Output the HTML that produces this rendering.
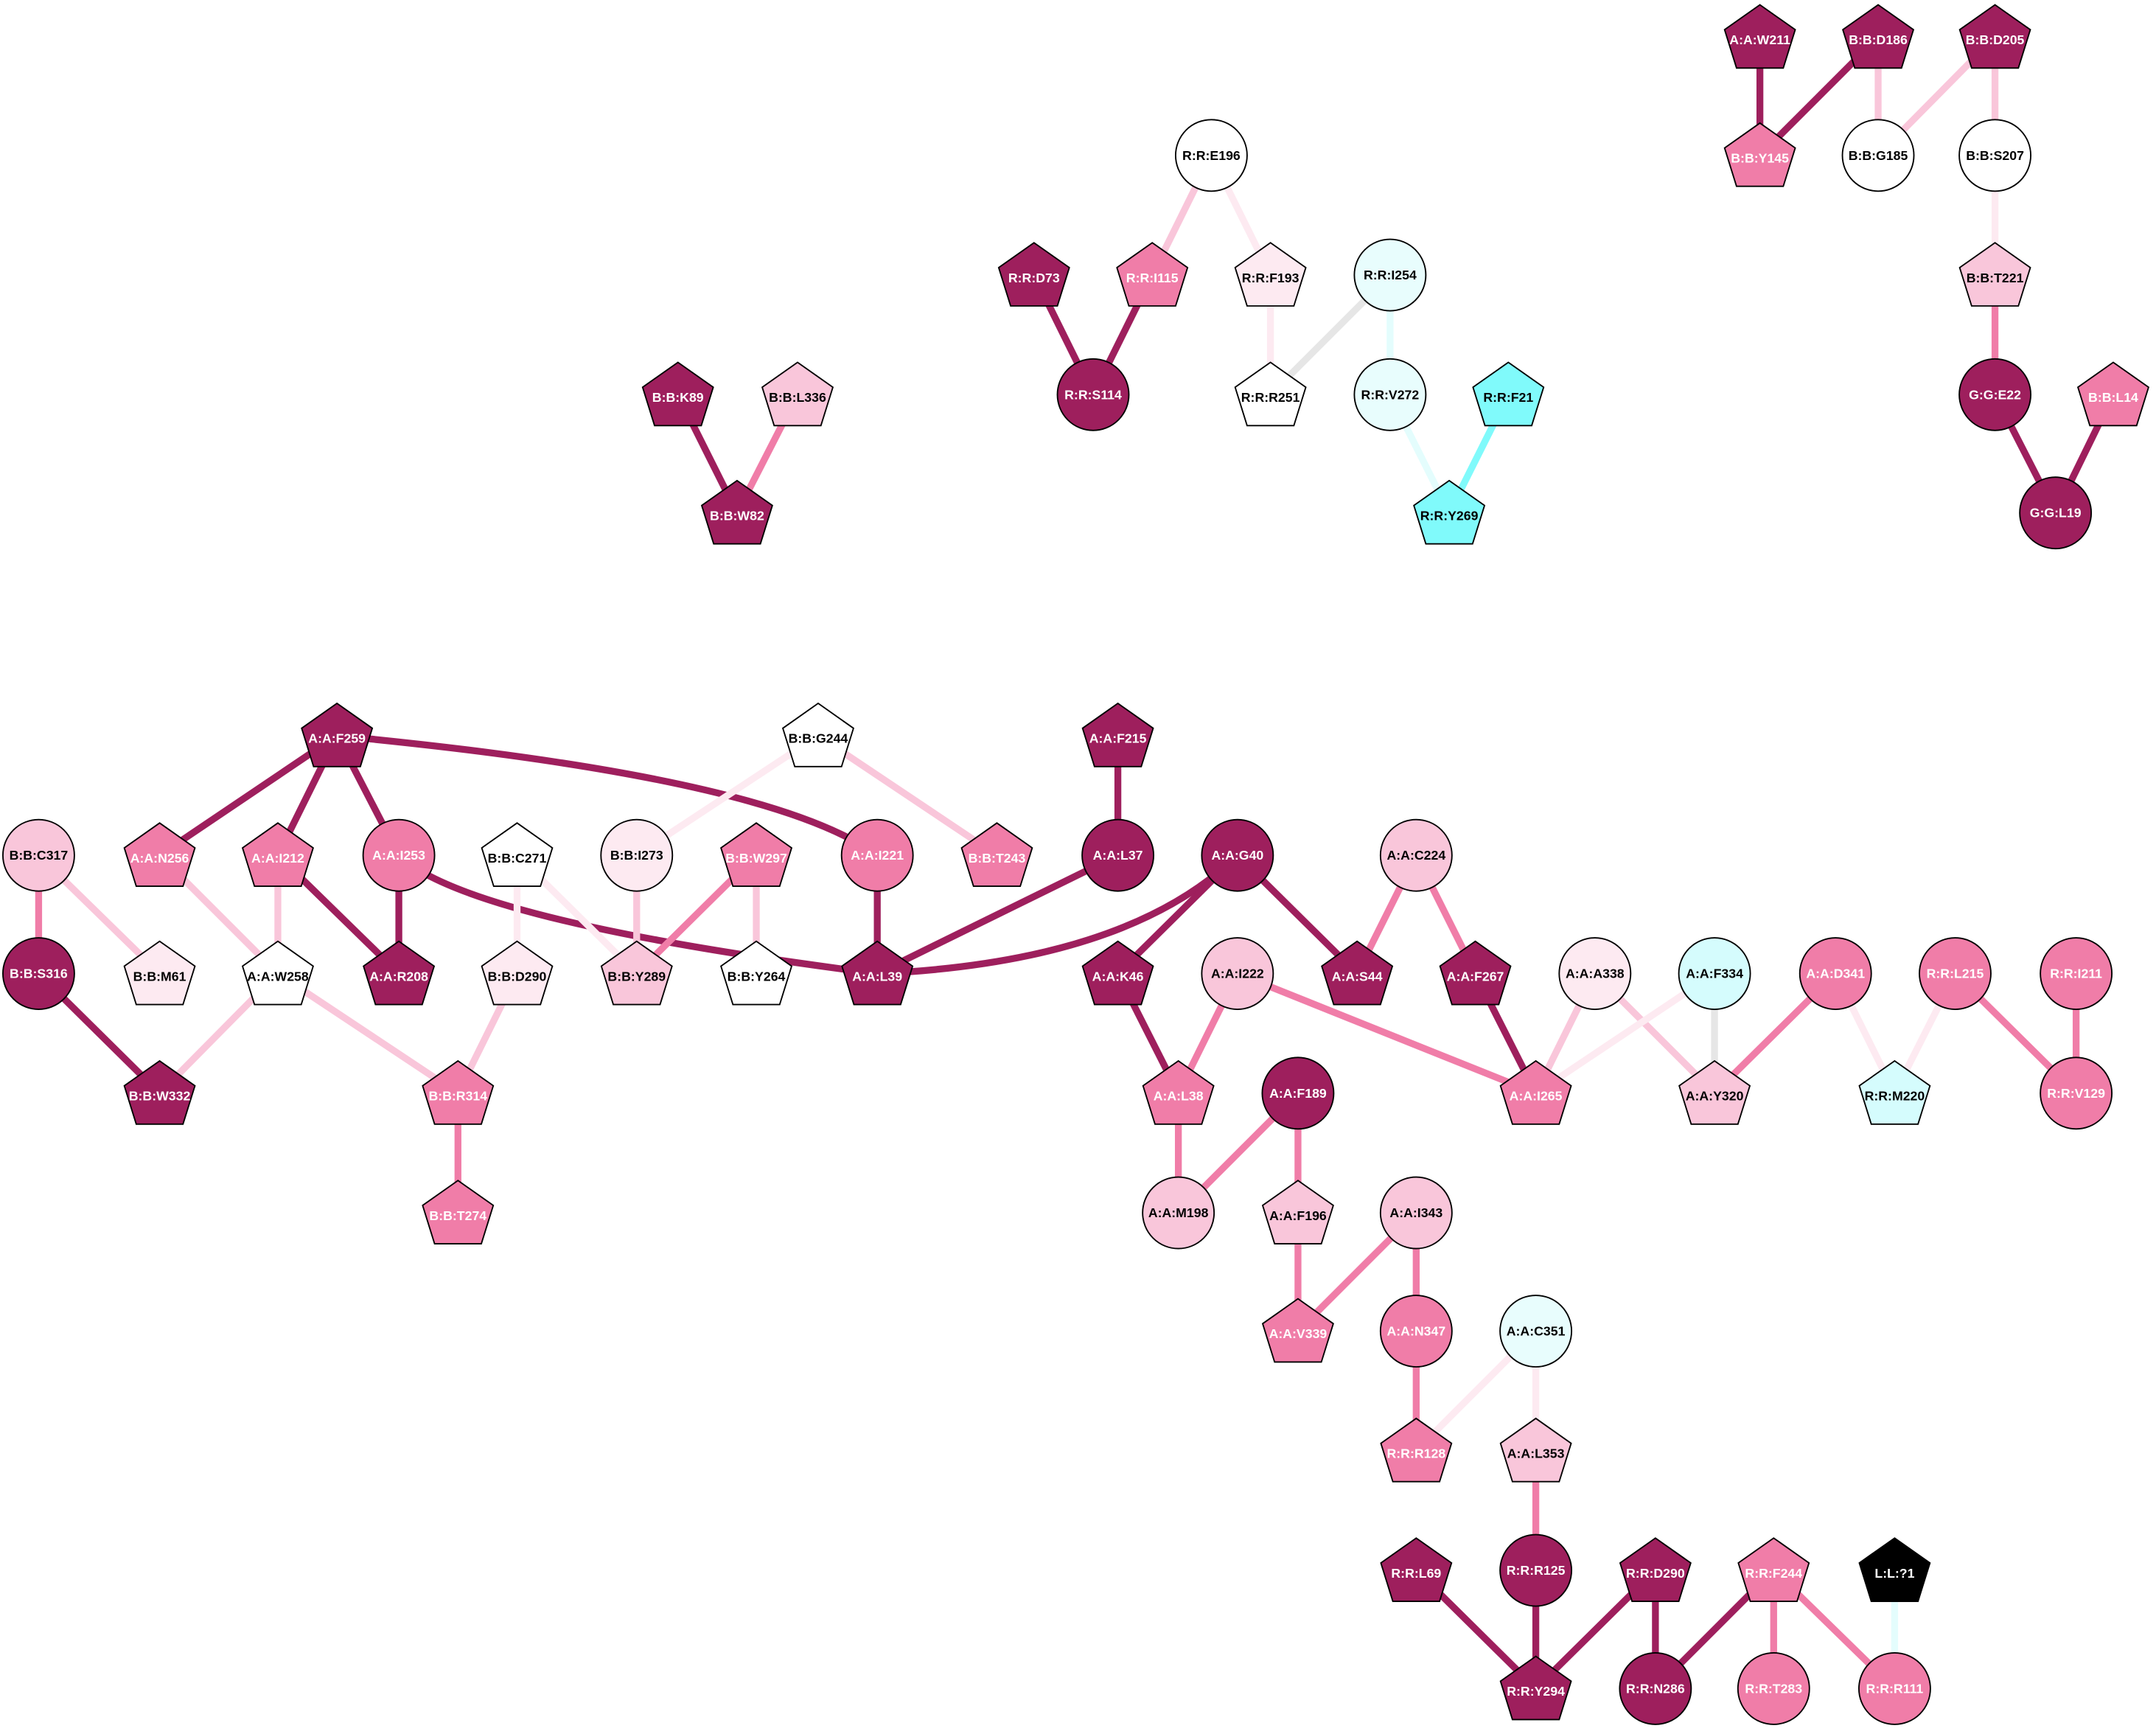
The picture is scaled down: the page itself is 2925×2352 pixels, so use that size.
<!DOCTYPE html>
<html><head><meta charset="utf-8"><style>
html,body{margin:0;padding:0;background:#fff}
svg{display:block}
.d{stroke:#9e1f5d}.m{stroke:#f07da8}.l{stroke:#f9c6da}.v{stroke:#fdeaf1}.g{stroke:#e6e6e6}.c{stroke:#e4fdfd}.b{stroke:#80fafb}
line,path{stroke-width:5;fill:none}
.n{stroke:#000;stroke-width:1}
.fd{fill:#9e1f5d}.fm{fill:#f07da8}.fl{fill:#f9c6da}.fv{fill:#fdeaf1}.fw{fill:#fff}.fc{fill:#e8fdfd}.fc2{fill:#d5fcfd}.fb{fill:#80fafb}.fk{fill:#000}
text{font-family:"Liberation Sans",sans-serif;font-weight:bold;font-size:9.5px;text-anchor:middle;dominant-baseline:central}
.tw{fill:#fff}.tk{fill:#000}
</style></head><body>
<svg width="2925" height="2352" viewBox="0 0 1568 1261" xmlns="http://www.w3.org/2000/svg">
<defs><polygon id="p" points="0,-23.5 25.7,-5.4 17,22.5 -17,22.5 -25.7,-5.4"/></defs>
<g>
<line class="d" x1="1280" y1="27" x2="1280" y2="113"/>
<line class="d" x1="1366" y1="27" x2="1280" y2="113"/>
<line class="l" x1="1366" y1="27" x2="1366" y2="113"/>
<line class="l" x1="1451" y1="27" x2="1366" y2="113"/>
<line class="l" x1="1451" y1="27" x2="1451" y2="113"/>
<line class="v" x1="1451" y1="113" x2="1451" y2="200"/>
<line class="m" x1="1451" y1="200" x2="1451" y2="287"/>
<line class="d" x1="1451" y1="287" x2="1495" y2="373"/>
<line class="d" x1="1537" y1="287" x2="1495" y2="373"/>
<line class="l" x1="881" y1="113" x2="838" y2="200"/>
<line class="v" x1="881" y1="113" x2="924" y2="200"/>
<line class="d" x1="752" y1="200" x2="795" y2="287"/>
<line class="d" x1="838" y1="200" x2="795" y2="287"/>
<line class="v" x1="924" y1="200" x2="924" y2="287"/>
<line class="g" x1="1011" y1="200" x2="924" y2="287"/>
<line class="c" x1="1011" y1="200" x2="1011" y2="287"/>
<line class="c" x1="1011" y1="287" x2="1054" y2="373"/>
<line class="b" x1="1097" y1="287" x2="1054" y2="373"/>
<line class="d" x1="493" y1="287" x2="536" y2="373"/>
<line class="m" x1="580" y1="287" x2="536" y2="373"/>
<line class="d" x1="245" y1="535" x2="116" y2="622"/>
<line class="d" x1="245" y1="535" x2="202" y2="622"/>
<line class="d" x1="245" y1="535" x2="290" y2="622"/>
<path class="d" d="M245,535 Q560,565 638,622"/>
<line class="v" x1="595" y1="535" x2="463" y2="622"/>
<line class="l" x1="595" y1="535" x2="725" y2="622"/>
<line class="m" x1="28" y1="622" x2="28" y2="708"/>
<line class="l" x1="28" y1="622" x2="116" y2="708"/>
<line class="l" x1="116" y1="622" x2="202" y2="708"/>
<line class="l" x1="202" y1="622" x2="202" y2="708"/>
<line class="d" x1="202" y1="622" x2="290" y2="708"/>
<line class="d" x1="290" y1="622" x2="290" y2="708"/>
<path class="d" d="M290,622 Q340,670 638,708"/>
<line class="v" x1="376" y1="622" x2="376" y2="708"/>
<line class="v" x1="376" y1="622" x2="463" y2="708"/>
<line class="l" x1="463" y1="622" x2="463" y2="708"/>
<line class="m" x1="550" y1="622" x2="463" y2="708"/>
<line class="l" x1="550" y1="622" x2="550" y2="708"/>
<line class="d" x1="638" y1="622" x2="638" y2="708"/>
<line class="d" x1="813" y1="622" x2="638" y2="708"/>
<line class="d" x1="813" y1="535" x2="813" y2="622"/>
<path class="d" d="M900,622 Q820,700 638,708"/>
<line class="d" x1="900" y1="622" x2="813" y2="708"/>
<line class="d" x1="900" y1="622" x2="987" y2="708"/>
<line class="m" x1="1030" y1="622" x2="987" y2="708"/>
<line class="m" x1="1030" y1="622" x2="1073" y2="708"/>
<line class="d" x1="28" y1="708" x2="116" y2="795"/>
<line class="l" x1="202" y1="708" x2="116" y2="795"/>
<line class="l" x1="202" y1="708" x2="333" y2="795"/>
<line class="l" x1="376" y1="708" x2="333" y2="795"/>
<line class="m" x1="333" y1="795" x2="333" y2="882"/>
<line class="d" x1="813" y1="708" x2="857" y2="795"/>
<line class="m" x1="900" y1="708" x2="857" y2="795"/>
<line class="m" x1="900" y1="708" x2="1117" y2="795"/>
<line class="d" x1="1073" y1="708" x2="1117" y2="795"/>
<line class="l" x1="1160" y1="708" x2="1117" y2="795"/>
<line class="l" x1="1160" y1="708" x2="1247" y2="795"/>
<line class="v" x1="1247" y1="708" x2="1117" y2="795"/>
<line class="g" x1="1247" y1="708" x2="1247" y2="795"/>
<line class="m" x1="1335" y1="708" x2="1247" y2="795"/>
<line class="v" x1="1335" y1="708" x2="1378" y2="795"/>
<line class="v" x1="1422" y1="708" x2="1378" y2="795"/>
<line class="m" x1="1422" y1="708" x2="1510" y2="795"/>
<line class="m" x1="1510" y1="708" x2="1510" y2="795"/>
<line class="m" x1="857" y1="795" x2="857" y2="882"/>
<line class="m" x1="944" y1="795" x2="857" y2="882"/>
<line class="m" x1="944" y1="795" x2="944" y2="882"/>
<line class="m" x1="944" y1="882" x2="944" y2="968"/>
<line class="m" x1="1030" y1="882" x2="944" y2="968"/>
<line class="m" x1="1030" y1="882" x2="1030" y2="968"/>
<line class="m" x1="1030" y1="968" x2="1030" y2="1055"/>
<line class="v" x1="1117" y1="968" x2="1030" y2="1055"/>
<line class="v" x1="1117" y1="968" x2="1117" y2="1055"/>
<line class="m" x1="1117" y1="1055" x2="1117" y2="1142"/>
<line class="d" x1="1117" y1="1142" x2="1117" y2="1228"/>
<line class="d" x1="1030" y1="1142" x2="1117" y2="1228"/>
<line class="d" x1="1204" y1="1142" x2="1117" y2="1228"/>
<line class="d" x1="1204" y1="1142" x2="1204" y2="1228"/>
<line class="d" x1="1290" y1="1142" x2="1204" y2="1228"/>
<line class="m" x1="1290" y1="1142" x2="1290" y2="1228"/>
<line class="m" x1="1290" y1="1142" x2="1378" y2="1228"/>
<line class="c" x1="1378" y1="1142" x2="1378" y2="1228"/>
</g>
<g>
<use href="#p" class="n fd" x="1280" y="27"/><text class="tw" x="1280" y="29">A:A:W211</text>
<use href="#p" class="n fd" x="1366" y="27"/><text class="tw" x="1366" y="29">B:B:D186</text>
<use href="#p" class="n fd" x="1451" y="27"/><text class="tw" x="1451" y="29">B:B:D205</text>
<use href="#p" class="n fm" x="1280" y="113"/><text class="tw" x="1280" y="115">B:B:Y145</text>
<circle class="n fw" cx="1366" cy="113" r="26"/><text class="tk" x="1366" y="113">B:B:G185</text>
<circle class="n fw" cx="1451" cy="113" r="26"/><text class="tk" x="1451" y="113">B:B:S207</text>
<use href="#p" class="n fl" x="1451" y="200"/><text class="tk" x="1451" y="202">B:B:T221</text>
<circle class="n fd" cx="1451" cy="287" r="26"/><text class="tw" x="1451" y="287">G:G:E22</text>
<use href="#p" class="n fm" x="1537" y="287"/><text class="tw" x="1537" y="289">B:B:L14</text>
<circle class="n fd" cx="1495" cy="373" r="26"/><text class="tw" x="1495" y="373">G:G:L19</text>

<circle class="n fw" cx="881" cy="113" r="26"/><text class="tk" x="881" y="113">R:R:E196</text>
<use href="#p" class="n fd" x="752" y="200"/><text class="tw" x="752" y="202">R:R:D73</text>
<use href="#p" class="n fm" x="838" y="200"/><text class="tw" x="838" y="202">R:R:I115</text>
<use href="#p" class="n fv" x="924" y="200"/><text class="tk" x="924" y="202">R:R:F193</text>
<circle class="n fc" cx="1011" cy="200" r="26"/><text class="tk" x="1011" y="200">R:R:I254</text>
<circle class="n fd" cx="795" cy="287" r="26"/><text class="tw" x="795" y="287">R:R:S114</text>
<use href="#p" class="n fw" x="924" y="287"/><text class="tk" x="924" y="289">R:R:R251</text>
<circle class="n fc" cx="1011" cy="287" r="26"/><text class="tk" x="1011" y="287">R:R:V272</text>
<use href="#p" class="n fb" x="1097" y="287"/><text class="tk" x="1097" y="289">R:R:F21</text>
<use href="#p" class="n fb" x="1054" y="373"/><text class="tk" x="1054" y="375">R:R:Y269</text>

<use href="#p" class="n fd" x="493" y="287"/><text class="tw" x="493" y="289">B:B:K89</text>
<use href="#p" class="n fl" x="580" y="287"/><text class="tk" x="580" y="289">B:B:L336</text>
<use href="#p" class="n fd" x="536" y="373"/><text class="tw" x="536" y="375">B:B:W82</text>

<use href="#p" class="n fd" x="245" y="535"/><text class="tw" x="245" y="537">A:A:F259</text>
<use href="#p" class="n fw" x="595" y="535"/><text class="tk" x="595" y="537">B:B:G244</text>
<use href="#p" class="n fd" x="813" y="535"/><text class="tw" x="813" y="537">A:A:F215</text>
<circle class="n fl" cx="28" cy="622" r="26"/><text class="tk" x="28" y="622">B:B:C317</text>
<use href="#p" class="n fm" x="116" y="622"/><text class="tw" x="116" y="624">A:A:N256</text>
<use href="#p" class="n fm" x="202" y="622"/><text class="tw" x="202" y="624">A:A:I212</text>
<circle class="n fm" cx="290" cy="622" r="26"/><text class="tw" x="290" y="622">A:A:I253</text>
<use href="#p" class="n fw" x="376" y="622"/><text class="tk" x="376" y="624">B:B:C271</text>
<circle class="n fv" cx="463" cy="622" r="26"/><text class="tk" x="463" y="622">B:B:I273</text>
<use href="#p" class="n fm" x="550" y="622"/><text class="tw" x="550" y="624">B:B:W297</text>
<circle class="n fm" cx="638" cy="622" r="26"/><text class="tw" x="638" y="622">A:A:I221</text>
<use href="#p" class="n fm" x="725" y="622"/><text class="tw" x="725" y="624">B:B:T243</text>
<circle class="n fd" cx="813" cy="622" r="26"/><text class="tw" x="813" y="622">A:A:L37</text>
<circle class="n fd" cx="900" cy="622" r="26"/><text class="tw" x="900" y="622">A:A:G40</text>
<circle class="n fl" cx="1030" cy="622" r="26"/><text class="tk" x="1030" y="622">A:A:C224</text>

<circle class="n fd" cx="28" cy="708" r="26"/><text class="tw" x="28" y="708">B:B:S316</text>
<use href="#p" class="n fv" x="116" y="708"/><text class="tk" x="116" y="710">B:B:M61</text>
<use href="#p" class="n fw" x="202" y="708"/><text class="tk" x="202" y="710">A:A:W258</text>
<use href="#p" class="n fd" x="290" y="708"/><text class="tw" x="290" y="710">A:A:R208</text>
<use href="#p" class="n fv" x="376" y="708"/><text class="tk" x="376" y="710">B:B:D290</text>
<use href="#p" class="n fl" x="463" y="708"/><text class="tk" x="463" y="710">B:B:Y289</text>
<use href="#p" class="n fw" x="550" y="708"/><text class="tk" x="550" y="710">B:B:Y264</text>
<use href="#p" class="n fd" x="638" y="708"/><text class="tw" x="638" y="710">A:A:L39</text>
<use href="#p" class="n fd" x="813" y="708"/><text class="tw" x="813" y="710">A:A:K46</text>
<circle class="n fl" cx="900" cy="708" r="26"/><text class="tk" x="900" y="708">A:A:I222</text>
<use href="#p" class="n fd" x="987" y="708"/><text class="tw" x="987" y="710">A:A:S44</text>
<use href="#p" class="n fd" x="1073" y="708"/><text class="tw" x="1073" y="710">A:A:F267</text>
<circle class="n fv" cx="1160" cy="708" r="26"/><text class="tk" x="1160" y="708">A:A:A338</text>
<circle class="n fc2" cx="1247" cy="708" r="26"/><text class="tk" x="1247" y="708">A:A:F334</text>
<circle class="n fm" cx="1335" cy="708" r="26"/><text class="tw" x="1335" y="708">A:A:D341</text>
<circle class="n fm" cx="1422" cy="708" r="26"/><text class="tw" x="1422" y="708">R:R:L215</text>
<circle class="n fm" cx="1510" cy="708" r="26"/><text class="tw" x="1510" y="708">R:R:I211</text>

<use href="#p" class="n fd" x="116" y="795"/><text class="tw" x="116" y="797">B:B:W332</text>
<use href="#p" class="n fm" x="333" y="795"/><text class="tw" x="333" y="797">B:B:R314</text>
<use href="#p" class="n fm" x="857" y="795"/><text class="tw" x="857" y="797">A:A:L38</text>
<circle class="n fd" cx="944" cy="795" r="26"/><text class="tw" x="944" y="795">A:A:F189</text>
<use href="#p" class="n fm" x="1117" y="795"/><text class="tw" x="1117" y="797">A:A:I265</text>
<use href="#p" class="n fl" x="1247" y="795"/><text class="tk" x="1247" y="797">A:A:Y320</text>
<use href="#p" class="n fc2" x="1378" y="795"/><text class="tk" x="1378" y="797">R:R:M220</text>
<circle class="n fm" cx="1510" cy="795" r="26"/><text class="tw" x="1510" y="795">R:R:V129</text>

<use href="#p" class="n fm" x="333" y="882"/><text class="tw" x="333" y="884">B:B:T274</text>
<circle class="n fl" cx="857" cy="882" r="26"/><text class="tk" x="857" y="882">A:A:M198</text>
<use href="#p" class="n fl" x="944" y="882"/><text class="tk" x="944" y="884">A:A:F196</text>
<circle class="n fl" cx="1030" cy="882" r="26"/><text class="tk" x="1030" y="882">A:A:I343</text>
<use href="#p" class="n fm" x="944" y="968"/><text class="tw" x="944" y="970">A:A:V339</text>
<circle class="n fm" cx="1030" cy="968" r="26"/><text class="tw" x="1030" y="968">A:A:N347</text>
<circle class="n fc" cx="1117" cy="968" r="26"/><text class="tk" x="1117" y="968">A:A:C351</text>
<use href="#p" class="n fm" x="1030" y="1055"/><text class="tw" x="1030" y="1057">R:R:R128</text>
<use href="#p" class="n fl" x="1117" y="1055"/><text class="tk" x="1117" y="1057">A:A:L353</text>
<use href="#p" class="n fd" x="1030" y="1142"/><text class="tw" x="1030" y="1144">R:R:L69</text>
<circle class="n fd" cx="1117" cy="1142" r="26"/><text class="tw" x="1117" y="1142">R:R:R125</text>
<use href="#p" class="n fd" x="1204" y="1142"/><text class="tw" x="1204" y="1144">R:R:D290</text>
<use href="#p" class="n fm" x="1290" y="1142"/><text class="tw" x="1290" y="1144">R:R:F244</text>
<use href="#p" class="n fk" x="1378" y="1142"/><text class="tw" x="1378" y="1144">L:L:?1</text>
<use href="#p" class="n fd" x="1117" y="1228"/><text class="tw" x="1117" y="1230">R:R:Y294</text>
<circle class="n fd" cx="1204" cy="1228" r="26"/><text class="tw" x="1204" y="1228">R:R:N286</text>
<circle class="n fm" cx="1290" cy="1228" r="26"/><text class="tw" x="1290" y="1228">R:R:T283</text>
<circle class="n fm" cx="1378" cy="1228" r="26"/><text class="tw" x="1378" y="1228">R:R:R111</text>
</g>
</svg>
</body></html>
